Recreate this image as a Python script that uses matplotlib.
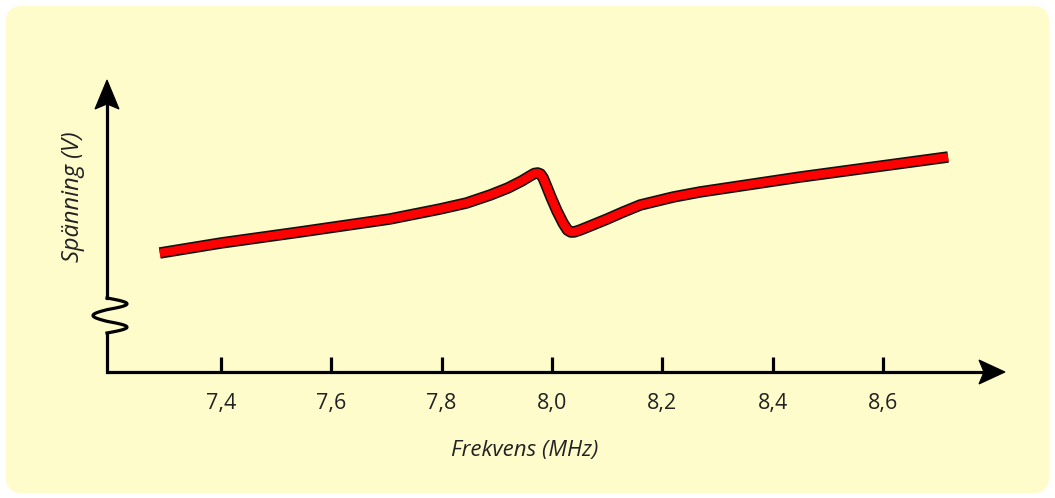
import matplotlib
matplotlib.use("Agg")
import matplotlib.pyplot as plt
import matplotlib.patheffects as pe
from matplotlib.patches import FancyBboxPatch, Polygon
import numpy as np

plt.rcParams.update({"font.family": ["Open Sans", "DejaVu Sans"]})

# resonance sweep: frequency (MHz) and voltage (arbitrary units)
freq = [7.289, 7.400, 7.543, 7.706, 7.797, 7.845, 7.888, 7.920, 7.945, 7.960,
        7.968, 7.974, 7.979, 7.984, 7.990, 7.998, 8.009, 8.020, 8.028, 8.034,
        8.040, 8.051, 8.069, 8.100, 8.129, 8.160, 8.220, 8.268, 8.450, 8.718]
volt = [1.19, 1.29, 1.40, 1.53, 1.63, 1.69, 1.77, 1.84, 1.91, 1.96,
        1.985, 1.99, 1.98, 1.94, 1.86, 1.75, 1.61, 1.49, 1.42, 1.40,
        1.40, 1.42, 1.46, 1.53, 1.60, 1.67, 1.75, 1.80, 1.95, 2.15]
xticks = [7.4, 7.6, 7.8, 8.0, 8.2, 8.4, 8.6]
xticklabels = ["7,4", "7,6", "7,8", "8,0", "8,2", "8,4", "8,6"]

W, H = 1055, 498
fig = plt.figure(figsize=(W / 100, H / 100), dpi=100)
fig.patch.set_facecolor("white")

# background layer in pixel coordinates
bg = fig.add_axes([0, 0, 1, 1])
bg.set_xlim(0, W)
bg.set_ylim(H, 0)
bg.axis("off")
bg.add_patch(FancyBboxPatch((6, 6), 1043, 487, boxstyle="round,pad=0,rounding_size=16",
                            fc="#fffccb", ec="none"))

k = "#000000"
lw = 2.3
# x axis with arrow
bg.plot([107, 985], [372, 372], color=k, lw=lw, solid_capstyle="butt")
bg.add_patch(Polygon([(1005, 372), (979, 360), (984, 372), (979, 384)], closed=True, fc=k, ec=k, lw=0.8))
# y axis with a wavy break symbol and arrow
bg.plot([107, 107], [372, 333], color=k, lw=lw, solid_capstyle="projecting")
t = np.linspace(0, 1, 120)
wave = np.sin(3 * np.pi * t)
zx = 107 + np.where(wave > 0, 20 * wave, 14 * wave)
zy = 333 - 35 * t
bg.plot(zx, zy, color=k, lw=lw, solid_joinstyle="round")
bg.plot([107, 107], [298, 105], color=k, lw=lw)
bg.add_patch(Polygon([(107, 80), (95, 109), (107, 104), (119, 109)], closed=True, fc=k, ec=k, lw=0.8))

# data axes
x0, x1 = 107, 1005
y0, y1 = 80, 372
ax = fig.add_axes([x0 / W, 1 - y1 / H, (x1 - x0) / W, (y1 - y0) / H])
ax.patch.set_alpha(0)
px_per_mhz = (883 - 221) / 1.2
ax.set_xlim(8.0 - (552 - x0) / px_per_mhz, 8.0 + (x1 - 552) / px_per_mhz)
ax.set_ylim(0, (y1 - y0) / 100)
for s in ax.spines.values():
    s.set_visible(False)
ax.set_yticks([])
ax.set_xticks(xticks)
ax.set_xticklabels(xticklabels, fontsize=15.5, color="#222222")
ax.tick_params(axis="x", direction="in", length=11, width=2.3, color=k, pad=15)

ax.plot(freq, volt, color="#ff0000", lw=6.0, solid_joinstyle="round", solid_capstyle="butt",
        path_effects=[pe.Stroke(linewidth=8.3, foreground="#111111"), pe.Normal()])

bg.text(525, 450, "Frekvens (MHz)", fontsize=16, style="italic", color="#222222",
        ha="center", va="center")
bg.text(73, 197, "Spänning (V)", fontsize=17, style="italic", color="#222222",
        ha="center", va="center", rotation=90)

fig.savefig("out.png", dpi=100, facecolor=fig.get_facecolor())
